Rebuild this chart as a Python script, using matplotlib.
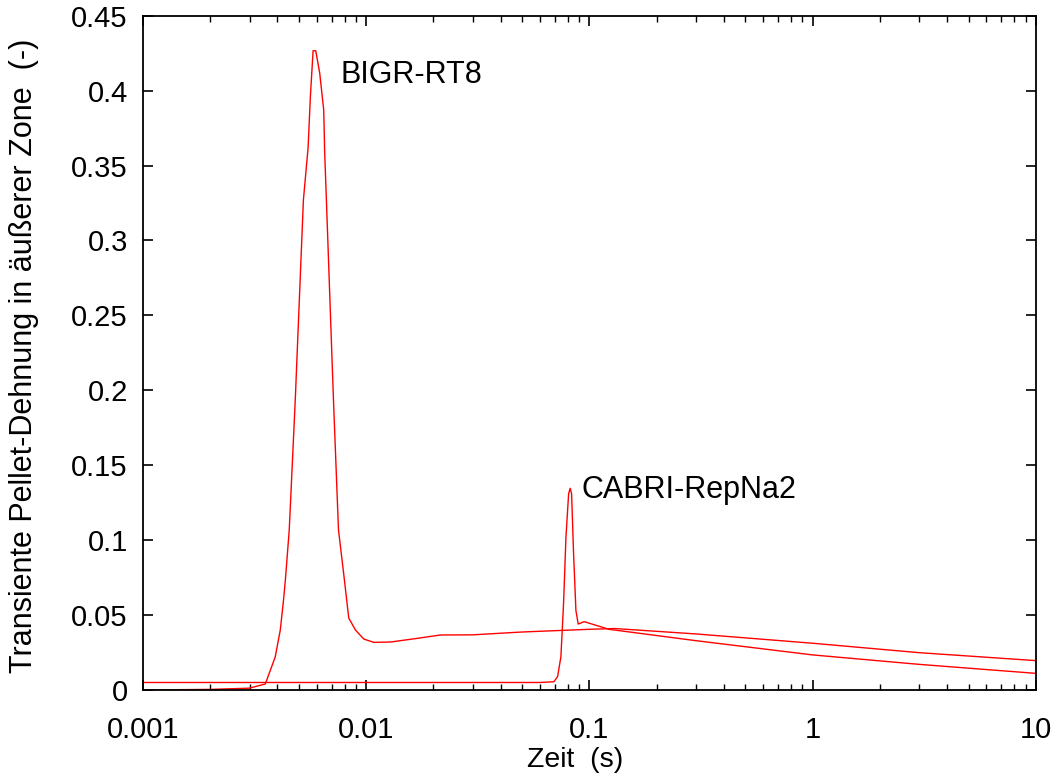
import matplotlib
matplotlib.use("Agg")
import matplotlib.pyplot as plt
from matplotlib.ticker import LogLocator, FixedLocator, FixedFormatter, NullFormatter

plt.rcParams['font.family'] = ['Liberation Sans', 'DejaVu Sans']

# BIGR-RT8 transient
bigr_t = [0.001, 0.0020, 0.00299, 0.00353, 0.00391, 0.00412, 0.00426, 0.00434,
          0.00452, 0.00481, 0.00523, 0.00549, 0.00562, 0.00578, 0.00594,
          0.00619, 0.00645, 0.00651, 0.00663, 0.00713, 0.00751, 0.00799,
          0.00835, 0.00895, 0.00975, 0.01081, 0.01285, 0.0170, 0.02154,
          0.0300, 0.050, 0.100, 0.130, 0.300, 1.0, 3.0, 10.0]
bigr_eps = [0.0, 0.0004, 0.0012, 0.0040, 0.022, 0.040, 0.060, 0.073,
            0.107, 0.194, 0.327, 0.362, 0.396, 0.4266, 0.4266,
            0.4116, 0.387, 0.360, 0.327, 0.194, 0.107, 0.073,
            0.048, 0.040, 0.034, 0.0318, 0.032, 0.0345, 0.0367,
            0.0368, 0.0387, 0.0405, 0.041, 0.0374, 0.0312, 0.0249, 0.0196]

# CABRI-RepNa2 transient
cabri_t = [0.001, 0.0100, 0.0600, 0.0693, 0.0720, 0.0745, 0.0766, 0.0785,
           0.0807, 0.0820, 0.0832, 0.0849, 0.0870, 0.0891, 0.0948, 0.1223,
           0.300, 1.0, 3.0, 10.0]
cabri_eps = [0.005, 0.005, 0.005, 0.0055, 0.0089, 0.022, 0.058, 0.102,
             0.131, 0.1346, 0.131, 0.0914, 0.053, 0.044, 0.0456, 0.0405,
             0.0329, 0.0234, 0.0171, 0.0111]

y_ticks = [0, 0.05, 0.1, 0.15, 0.2, 0.25, 0.3, 0.35, 0.4, 0.45]
y_tick_labels = ["0", "0.05", "0.1", "0.15", "0.2", "0.25", "0.3", "0.35", "0.4", "0.45"]
x_ticks = [0.001, 0.01, 0.1, 1, 10]
x_tick_labels = ["0.001", "0.01", "0.1", "1", "10"]

fig = plt.figure(figsize=(10.58, 7.73), dpi=100)
ax = fig.add_axes([0.1352, 0.1074, 0.979 - 0.1352, 0.9797 - 0.1074])

ax.plot(bigr_t, bigr_eps, color='#ff0000', lw=1.0)
ax.plot(cabri_t, cabri_eps, color='#ff0000', lw=1.0)

ax.set_xscale('log')
ax.set_xlim(0.001, 10)
ax.set_ylim(0, 0.45)

ax.xaxis.set_major_locator(FixedLocator(x_ticks))
ax.xaxis.set_major_formatter(FixedFormatter(x_tick_labels))
ax.xaxis.set_minor_locator(LogLocator(base=10, subs=range(2, 10)))
ax.xaxis.set_minor_formatter(NullFormatter())
ax.yaxis.set_major_locator(FixedLocator(y_ticks))
ax.yaxis.set_major_formatter(FixedFormatter(y_tick_labels))

ax.tick_params(which='major', direction='in', length=7, width=1.2,
               top=True, right=True, labelsize=21, color='black')
ax.tick_params(axis='x', which='major', pad=19)
ax.tick_params(axis='y', which='major', pad=11)
ax.tick_params(which='minor', direction='in', length=4, width=1.0,
               top=True, right=True)
for s in ax.spines.values():
    s.set_linewidth(1.3)

# axis titles
fig.text(575 / 1058, 1 - 767 / 773, "Zeit  (s)", fontsize=20.5,
         ha='center', va='baseline')
fig.text(24 / 1058, 1 - 356 / 773, "Transiente Pellet-Dehnung in äußerer Zone  (-)",
         fontsize=22, rotation=90, ha='center', va='center')

ax.text(0.0077, 0.4106, "BIGR-RT8", fontsize=22, va='center', ha='left')
ax.text(0.0925, 0.1335, "CABRI-RepNa2", fontsize=22, va='center', ha='left')

fig.savefig("out.png", dpi=100)
